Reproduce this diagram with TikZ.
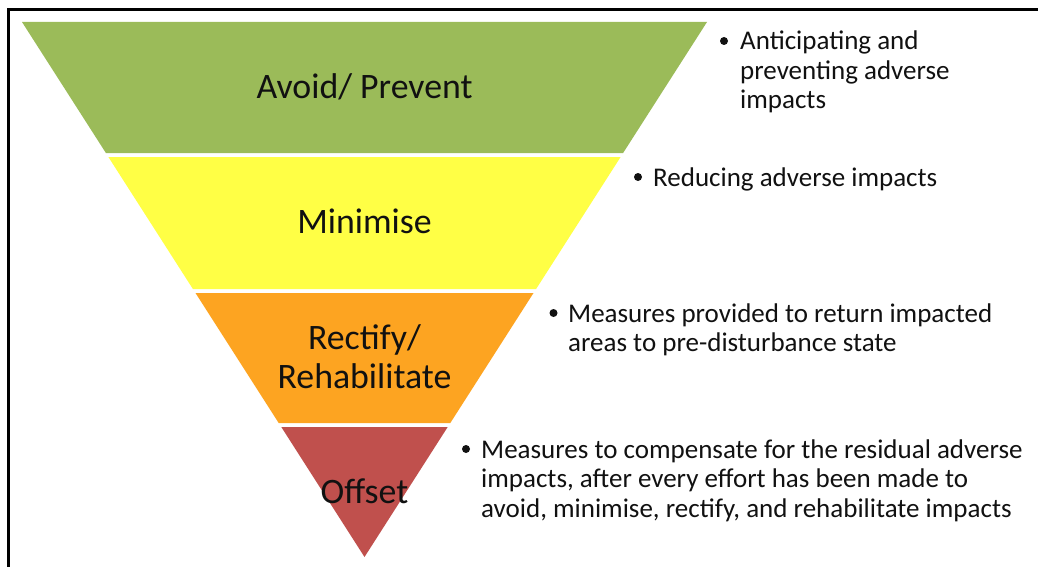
\documentclass[tikz,border=0pt]{standalone}
\usepackage{fontspec}
\setmainfont{Carlito}
\definecolor{bandgreen}{HTML}{9BBB59}
\definecolor{bandyellow}{HTML}{FFFF45}
\definecolor{bandorange}{HTML}{FDA421}
\definecolor{bandred}{HTML}{C0504D}
\definecolor{txt}{HTML}{111111}
\begin{document}
\begin{tikzpicture}[x=1pt,y=-1pt,
  label/.style={anchor=base,inner sep=0pt,font=\fontsize{35.8}{39}\selectfont,text=txt},
  desc/.style={anchor=base west,inner sep=0pt,font=\fontsize{27}{29.5}\selectfont,text=txt},
  dot/.style={circle,fill=txt,inner sep=0pt,minimum size=8pt}]
\useasboundingbox (0,0) rectangle (1038,567);
\fill[white] (0,0) rectangle (1038,567);
% frame
\draw[line width=3pt] (8,567) coordinate (fa) -- (8,10) coordinate (fb) -- (1038,10) coordinate (fc);
% bands
\fill[bandgreen] (22,22) -- (707,22) -- (623.1,153) -- (105.9,153) -- cycle;
\fill[bandyellow] (108.4,157) -- (620.6,157) -- (536.1,289) -- (192.9,289) -- cycle;
\fill[bandorange] (195.5,293) -- (533.5,293) -- (450.3,423) -- (278.7,423) -- cycle;
\fill[bandred] (281.3,427) -- (447.7,427) -- (364.5,557) -- cycle;
% labels
\node[label] (l1) at (364.5,99) {Avoid/ Prevent};
\node[label] (l2) at (364.5,233) {Minimise};
\node[label] (l3a) at (364.5,349) {Rectify/};
\node[label] (l3b) at (364.5,388) {Rehabilitate};
\node[label] (l4) at (364.5,503) {Offset};
% descriptions
\node[dot] (b1) at (724,41) {};
\node[desc] (d1a) at (740,50) {Anticipating and};
\node[desc] (d1b) at (740,79.5) {preventing adverse};
\node[desc] (d1c) at (740,109) {impacts};
\node[dot] (b2) at (638,177) {};
\node[desc] (d2a) at (653,186) {Reducing adverse impacts};
\node[dot] (b3) at (553.5,313) {};
\node[desc] (d3a) at (568,322) {Measures provided to return impacted};
\node[desc] (d3b) at (568,351.5) {areas to pre-disturbance state};
\node[dot] (b4) at (466,449) {};
\node[desc] (d4a) at (481,458) {Measures to compensate for the residual adverse};
\node[desc] (d4b) at (481,487.5) {impacts, after every effort has been made to};
\node[desc] (d4c) at (481,517) {avoid, minimise, rectify, and rehabilitate impacts};
\end{tikzpicture}
\end{document}
